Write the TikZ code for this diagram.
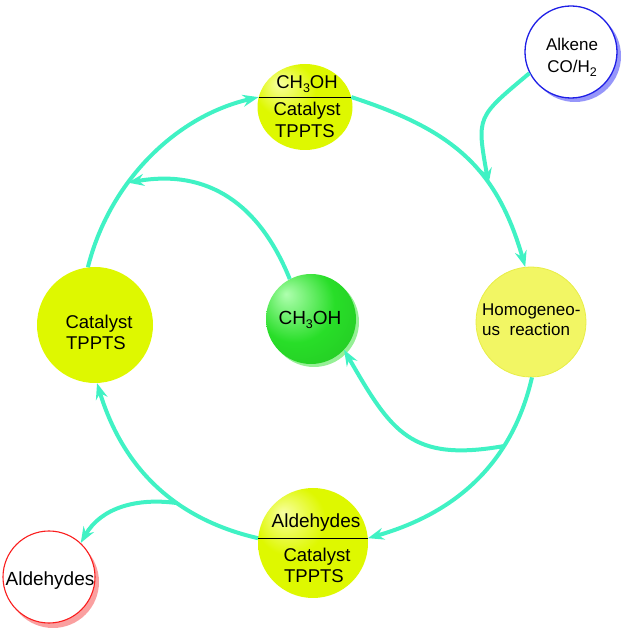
\documentclass[tikz,border=0pt]{standalone}
\usepackage{fontspec}
\setmainfont{Liberation Sans}
\usetikzlibrary{arrows.meta,shapes.geometric}
\definecolor{arr}{RGB}{64,242,196}
\definecolor{ymain}{RGB}{222,248,0}
\definecolor{yhi}{RGB}{248,255,160}
\definecolor{gmain}{RGB}{40,222,40}
\definecolor{ghi}{RGB}{175,255,175}
\definecolor{gshadow}{RGB}{150,240,150}
\definecolor{hfill}{RGB}{242,246,100}
\definecolor{hborder}{RGB}{232,238,70}
\definecolor{bluec}{RGB}{30,30,230}
\definecolor{blueshadow}{RGB}{150,150,250}
\definecolor{redc}{RGB}{250,30,30}
\definecolor{redshadow}{RGB}{250,160,160}
\pgfdeclareradialshading{yball}{\pgfpoint{-14bp}{14bp}}{color(0bp)=(yhi); color(16bp)=(ymain); color(40bp)=(ymain); color(60bp)=(ymain!95!black)}
\pgfdeclareradialshading{gball}{\pgfpoint{-14bp}{14bp}}{color(0bp)=(ghi); color(22bp)=(gmain); color(50bp)=(gmain!85!black); color(60bp)=(gmain!85!black)}
\newcommand{\subt}[1]{\raisebox{-0.35ex}{\fontsize{12.5}{12.5}\selectfont #1}}
\begin{document}
\begin{tikzpicture}[x=1pt,y=1pt,
  flow/.style={draw=arr, line width=4pt, -{Stealth[length=16pt,width=12pt,inset=5.5pt]}},
  ball/.style={circle, inner sep=0pt, minimum size=#1},
  lbl/.style={anchor=base, inner sep=0pt, font=\fontsize{18.5}{20}\selectfont},
  slbl/.style={inner sep=0pt, font=\fontsize{17}{19}\selectfont},
  sep/.style={draw=black, line width=0.9pt}
]
\useasboundingbox (0,0) rectangle (624,630);
% shadows
\fill[blueshadow] (575,574) circle (46);
\fill[redshadow] (53,48) circle (46);
\fill[gshadow] (314,308) circle (45);
% circles
\node[ball=92pt, draw=bluec, line width=1.3pt, fill=white] (alk) at (571,578) {};
\node[ball=92pt, draw=redc, line width=1.1pt, fill=white] (ald) at (49,53) {};
\node[ellipse, inner sep=0pt, minimum width=95pt, minimum height=86pt, shading=yball] (top) at (305,523) {};
\node[ball=110pt, shading=yball] (bot) at (313,87) {};
\node[ball=116pt, fill=ymain] (lc) at (95,305) {};
\node[ball=90pt, shading=gball] (gr) at (311,311) {};
\node[ball=110pt, fill=hfill, draw=hborder, line width=0.8pt] (hom) at (531,308) {};
% separators
\draw[sep] (top.168) -- (top.12);
\draw[sep] (bot.175) -- (bot.5);
% texts
\node[lbl] (t1) at (307,541) {CH\subt{3}OH};
\node[lbl] (t2) at (307,514) {Catalyst};
\node[lbl] (t3) at (305,492) {TPPTS};
\node[slbl, anchor=base] (a1) at (572,579) {Alkene};
\node[slbl, anchor=base] (a2) at (572,557) {CO/H\subt{2}};
\node[lbl, font=\fontsize{19}{21}\selectfont] (r1) at (50,44) {Aldehydes};
\node[lbl, font=\fontsize{19}{21}\selectfont] (b1) at (316,102) {Aldehydes};
\node[lbl] (b2) at (317,68) {Catalyst};
\node[lbl] (b3) at (314,47) {TPPTS};
\node[lbl] (l1) at (99,301) {Catalyst};
\node[lbl] (l2) at (96,280) {TPPTS};
\node[lbl, font=\fontsize{19}{21}\selectfont] (g1) at (310,305) {CH\subt{3}OH};
\node[slbl, anchor=base west] (h1) at (482,314) {Homogeneo-};
\node[slbl, anchor=base west] (h2) at (482,294) {us\ \ reaction};
% arrows
\draw[flow] (lc.97) to[out=76,in=193,looseness=0.92] node[coordinate,pos=0.37] (j4) {} (top.168);
\draw[flow] (top.12) to[out=-18,in=106,looseness=1.1] node[coordinate,pos=0.66] (j1) {} (hom.96);
\draw[flow] (alk.207) to[out=220,in=100,looseness=1.5] (j1);
\draw[flow] (hom.-89) to[out=-103,in=16] node[coordinate,pos=0.3] (j2) {} (bot.5);
\draw[flow] (j2) to[out=190,in=-60,looseness=1.3] (gr.-43);
\draw[flow] (bot.175) to[out=167,in=287] node[coordinate,pos=0.37] (j3) {} (lc.-88);
\draw[flow] (j3) to[out=172,in=60] (ald.47);
\draw[flow] (gr.118) to[out=112,in=10,looseness=1.1] (j4);
\end{tikzpicture}
\end{document}
